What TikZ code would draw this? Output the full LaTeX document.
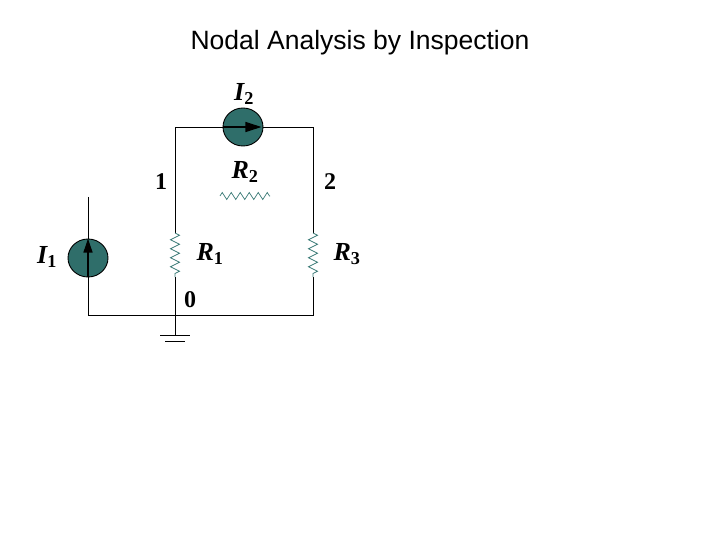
\documentclass[tikz,border=0pt]{standalone}
\usepackage{fontspec}
\setmainfont{Liberation Serif}
\newfontfamily\titlefont{Liberation Sans}
\usetikzlibrary{decorations.pathmorphing,arrows.meta,shapes.geometric}
\definecolor{srcfill}{HTML}{2F6E6A}
\definecolor{reswire}{HTML}{3A7A76}
\begin{document}
\begin{tikzpicture}[x=1pt,y=-1pt,line width=0.9pt,
  src/.style={ellipse,draw,fill=srcfill,minimum width=40pt,minimum height=38pt,inner sep=0pt},
  res/.style={draw=reswire,line width=0.7pt,decorate,decoration={zigzag,segment length=9pt,amplitude=4.5pt}},
  lbl/.style={font=\bfseries\itshape\fontsize{26}{26}\selectfont},
  num/.style={font=\bfseries\fontsize{24}{24}\selectfont}]
\useasboundingbox (0,0) rectangle (720,540);
\node[font=\titlefont\fontsize{26.5}{27}\selectfont] (title) at (360,43) {Nodal Analysis by Inspection};
\coordinate (A) at (88,197);
\coordinate (B) at (88,315);
\coordinate (C) at (175,315);
\coordinate (D) at (313,315);
\coordinate (E) at (175,127);
\coordinate (F) at (313,127);
\coordinate (R1t) at (175,233);
\coordinate (R1b) at (175,277);
\coordinate (R3t) at (313,233);
\coordinate (R3b) at (313,277);
\coordinate (R2l) at (220,196);
\coordinate (R2r) at (270,196);
\coordinate (G) at (175,335);

\node[src] (I1) at (88,258) {};
\node[src] (I2) at (243,127) {};
\draw (A) -- (I1.north);
\draw (I1.south) -- (B) -- (D) -- (R3b);
\draw (R3t) -- (F) -- (I2.east);
\draw (I2.west) -- (E) -- (R1t);
\draw (R1b) -- (G);
\draw[res] (R1t) -- (R1b);
\draw[res] (R3t) -- (R3b);
\draw[res,decoration={amplitude=3.5pt}] (R2l) -- (R2r);
\draw[-{Triangle[length=14pt,width=9pt]},line width=1.4pt] (I1.south) -- (I1.north);
\draw[-{Triangle[length=16pt,width=10pt]},line width=1.4pt] (I2.west) -- ([xshift=-2pt]I2.east);
\draw (160,335) -- (190,335);
\draw (165,341) -- (185,341);

\node[lbl] (L1) at (47,257) {I$_{\mathbf 1}$};
\node[lbl] (L2) at (244,94) {I$_{\mathbf 2}$};
\node[lbl] (LR1) at (210,254) {R$_{\mathbf 1}$};
\node[lbl] (LR2) at (245,172) {R$_{\mathbf 2}$};
\node[lbl] (LR3) at (347,254) {R$_{\mathbf 3}$};
\node[num] (n1) at (161,182) {1};
\node[num] (n2) at (330,182) {2};
\node[num] (n0) at (190,300) {0};
\end{tikzpicture}
\end{document}
